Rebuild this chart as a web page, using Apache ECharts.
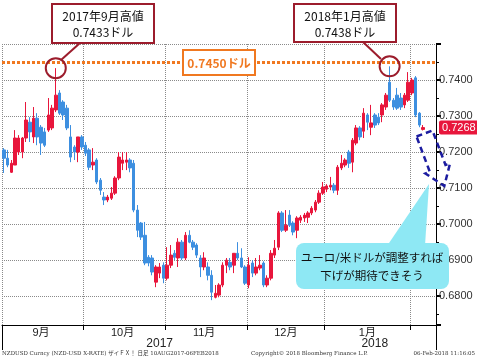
<!DOCTYPE html>
<html><head><meta charset="utf-8">
<script src="https://cdn.jsdelivr.net/npm/echarts@6/dist/echarts.min.js"></script>
<style>html,body{margin:0;padding:0;background:#fff}#c{width:477px;height:361px}</style>
</head><body><div id="c"></div>
<script>
// ---- categories (trading days) ----
const monthDays = [
  ['2017-08', [31]],
  ['2017-09', [1,4,5,6,7,8,11,12,13,14,15,18,19,20,21,22,25,26,27,28,29]],
  ['2017-10', [2,3,4,5,6,9,10,11,12,13,16,17,18,19,20,23,24,25,26,27,30,31]],
  ['2017-11', [1,2,3,6,7,8,9,10,13,14,15,16,17,20,21,22,23,24,27,28,29,30]],
  ['2017-12', [1,4,5,6,7,8,11,12,13,14,15,18,19,20,21,22,25,26,27,28,29]],
  ['2018-01', [1,2,3,4,5,8,9,10,11,12,15,16,17,18,19,22,23,24,25,26,29,30,31]],
  ['2018-02', [1,2,5,6,7,8,9]]
];
const dates = [];
monthDays.forEach(([m, ds]) => ds.forEach(d => dates.push(m + '-' + String(d).padStart(2, '0'))));

// ---- OHLC values (NZD/USD daily) ----
const opens = [0.7206,0.7183,0.7144,0.7164,0.7200,0.7200,0.7239,0.7283,0.7242,0.7294,0.7269,0.7256,0.7261,0.7267,0.7317,0.7364,0.7339,0.7322,0.7242,0.7214,0.7200,0.7242,
0.7219,0.7206,0.7164,0.7178,0.7122,0.7075,0.7067,0.7072,0.7086,0.7128,0.7169,0.7172,0.7178,0.7169,0.7039,0.7003,0.6969,0.6908,0.6906,0.6839,0.6864,0.6886,
0.6850,0.6886,0.6919,0.6906,0.6950,0.6906,0.6969,0.6950,0.6942,0.6906,0.6881,0.6881,0.6858,0.6797,0.6803,0.6831,0.6886,0.6894,0.6886,0.6919,0.6906,0.6881,
0.6831,0.6892,0.6864,0.6878,0.6892,0.6831,0.6850,0.6914,0.6936,0.7031,0.6983,0.7025,0.7003,0.6983,0.7011,0.7017,0.7019,0.7031,0.7039,0.7061,0.7086,
0.7097,0.7103,0.7108,0.7094,0.7156,0.7164,0.7200,0.7172,0.7225,0.7267,0.7258,0.7303,0.7269,0.7303,0.7297,0.7303,0.7325,0.7394,0.7344,0.7358,0.7350,0.7331,0.7344,
0.7364,0.7406,0.7308,0.7263];
const closes = [0.7183,0.7164,0.7169,0.7239,0.7239,0.7239,0.7289,0.7256,0.7294,0.7242,0.7225,0.7219,0.7303,0.7322,0.7358,0.7308,0.7303,0.7267,0.7186,0.7200,0.7242,0.7214,
0.7197,0.7158,0.7172,0.7117,0.7094,0.7067,0.7075,0.7086,0.7128,0.7186,0.7178,0.7178,0.7156,0.7039,0.6983,0.6964,0.6892,0.6892,0.6867,0.6881,0.6881,0.6850,
0.6886,0.6914,0.6908,0.6950,0.6906,0.6969,0.6950,0.6936,0.6914,0.6881,0.6906,0.6858,0.6811,0.6808,0.6831,0.6886,0.6900,0.6881,0.6919,0.6906,0.6881,0.6836,
0.6886,0.6864,0.6881,0.6886,0.6831,0.6850,0.6919,0.6933,0.7031,0.6983,0.6997,0.6997,0.6978,0.7017,0.7019,0.7025,0.7031,0.7044,0.7061,0.7086,0.7103,
0.7106,0.7108,0.7094,0.7158,0.7169,0.7178,0.7169,0.7233,0.7267,0.7242,0.7308,0.7283,0.7281,0.7275,0.7281,0.7331,0.7358,0.7344,0.7325,0.7322,0.7325,0.7358,0.7394,
0.7400,0.7303,0.7275,0.7268];
const lows = [0.7142,0.7158,0.7142,0.7164,0.7192,0.7183,0.7228,0.7228,0.7225,0.7219,0.7192,0.7214,0.7256,0.7261,0.7311,0.7303,0.7289,0.7261,0.7172,0.7178,0.7172,0.7206,
0.7189,0.7150,0.7150,0.7111,0.7081,0.7053,0.7061,0.7067,0.7081,0.7122,0.7150,0.7150,0.7144,0.7033,0.6964,0.6956,0.6886,0.6883,0.6858,0.6825,0.6850,0.6836,
0.6844,0.6878,0.6900,0.6881,0.6900,0.6900,0.6947,0.6928,0.6906,0.6853,0.6872,0.6844,0.6789,0.6794,0.6797,0.6825,0.6864,0.6872,0.6864,0.6900,0.6878,0.6831,
0.6822,0.6853,0.6858,0.6872,0.6825,0.6825,0.6844,0.6906,0.6928,0.6978,0.6978,0.6992,0.6969,0.6961,0.7003,0.7006,0.7003,0.7025,0.7033,0.7056,0.7081,
0.7089,0.7094,0.7086,0.7081,0.7150,0.7158,0.7156,0.7144,0.7219,0.7233,0.7239,0.7261,0.7247,0.7267,0.7275,0.7283,0.7317,0.7339,0.7317,0.7317,0.7317,0.7322,0.7339,
0.7358,0.7297,0.7269,0.7260];
const highs = [0.7211,0.7206,0.7178,0.7261,0.7247,0.7242,0.7339,0.7297,0.7325,0.7308,0.7275,0.7267,0.7350,0.7331,0.7433,0.7372,0.7344,0.7331,0.7275,0.7219,0.7242,0.7247,
0.7228,0.7211,0.7211,0.7183,0.7128,0.7089,0.7081,0.7103,0.7133,0.7200,0.7200,0.7200,0.7183,0.7178,0.7053,0.7006,0.7006,0.6914,0.6914,0.6886,0.6892,0.6894,
0.6936,0.6942,0.6928,0.6961,0.6956,0.6978,0.6983,0.6956,0.6947,0.6914,0.6922,0.6894,0.6872,0.6831,0.6836,0.6894,0.6906,0.6906,0.6919,0.6950,0.6933,0.6886,
0.6908,0.6900,0.6906,0.6914,0.6897,0.6858,0.6928,0.6956,0.7036,0.7036,0.7039,0.7039,0.7008,0.7022,0.7025,0.7031,0.7036,0.7050,0.7067,0.7094,0.7117,
0.7111,0.7131,0.7114,0.7164,0.7192,0.7183,0.7206,0.7239,0.7275,0.7272,0.7322,0.7308,0.7331,0.7308,0.7308,0.7336,0.7364,0.7438,0.7350,0.7378,0.7364,0.7364,0.7422,
0.7406,0.7411,0.7311,0.7275];

// ---- axis labels / reference values ----
const monthLabels = {'2017-09-14':'9月','2017-10-16':'10月','2017-11-15':'11月','2017-12-15':'12月','2018-01-16':'1月'};
const yearLabels = {'2017-10-30':'2017','2018-01-18':'2018'};
const monthStarts = ['2017-10-02','2017-11-01','2017-12-01','2018-01-01','2018-02-01'];
const yearStarts = ['2018-01-01'];
const resistance = 0.7450;
const lastPrice = 0.7268;
const highMarks = [['2017-09-20', 0.7433], ['2018-01-24', 0.7438]];

const RED = '#e8163c', BLUE = '#3d8fe0', ORANGE = '#f07820', DARKRED = '#9c1c2c';
const FONT = "'Liberation Sans','Noto Sans CJK JP',sans-serif";
const JFONT = "'Noto Sans CJK JP','Liberation Sans',sans-serif";

const candleData = dates.map((d, i) => i < opens.length ? [opens[i], closes[i], lows[i], highs[i]] : '-');

const chart = echarts.init(document.getElementById('c'), null, {renderer: 'canvas'});

function txt(text, x, y, opt) {
  return {type: 'text', z: 110, style: Object.assign({text, x, y, textAlign: 'center', textVerticalAlign: 'middle', fill: '#111', font: '12px ' + JFONT}, opt || {})};
}

// arrow outline (annotation)
const arrowPts = [[416.5,136.5],[432.5,130.5],[445.5,165],[450,163.5],[444.3,186],[425.5,173.5],[429.9,172]];

chart.setOption({
  animation: false,
  backgroundColor: '#fff',
  grid: {left: 2, right: 41, top: 44, bottom: 36, containLabel: false},
  xAxis: [{
    type: 'category', data: dates, boundaryGap: true,
    axisLine: {show: true, lineStyle: {color: '#000', width: 1}},
    axisTick: {show: true, length: 5, interval: (i, v) => monthStarts.includes(v), lineStyle: {color: '#000'}},
    axisLabel: {interval: (i, v) => v in monthLabels, formatter: v => monthLabels[v] || '', margin: 2, fontSize: 11, color: '#222', fontFamily: FONT, hideOverlap: false},
    splitLine: {show: true, interval: (i, v) => i === 0 || monthStarts.includes(v), lineStyle: {color: '#8a8a8a', type: 'dotted', width: 1}}
  }, {
    type: 'category', data: dates, boundaryGap: true, position: 'bottom', offset: 0,
    axisLine: {show: false},
    axisTick: {show: true, length: 25, interval: (i, v) => yearStarts.includes(v), lineStyle: {color: '#000'}},
    axisLabel: {interval: (i, v) => v in yearLabels, formatter: v => yearLabels[v] || '', margin: 13, fontSize: 12, color: '#222', fontFamily: FONT, hideOverlap: false},
    splitLine: {show: false}
  }],
  yAxis: {
    type: 'value', position: 'right', min: 0.672, max: 0.75, splitNumber: 8,
    axisLine: {show: true, lineStyle: {color: '#000', width: 1}},
    axisTick: {show: true, length: 5, lineStyle: {color: '#000', width: 2}},
    minorTick: {show: true, splitNumber: 2, length: 3, lineStyle: {color: '#000'}},
    axisLabel: {margin: 3, fontSize: 11, color: '#333', fontFamily: FONT,
      formatter: v => (Math.abs(v * 100 - Math.round(v * 100)) < 1e-6 && v < 0.7499) ? v.toFixed(4) : ''},
    splitLine: {show: true, lineStyle: {color: '#8a8a8a', type: 'dotted', width: 1}}
  },
  series: [{
    type: 'candlestick', xAxisIndex: 0, data: candleData, barWidth: 3,
    itemStyle: {color: RED, color0: BLUE, borderColor: RED, borderColor0: BLUE, borderWidth: 1},
    markPoint: {
      silent: true, symbol: 'circle', symbolSize: 20, animation: false,
      itemStyle: {color: 'rgba(0,0,0,0)', borderColor: DARKRED, borderWidth: 2},
      label: {show: false},
      data: highMarks.map(h => ({coord: [h[0], h[1]]}))
    }
  }, {
    type: 'line', xAxisIndex: 0, data: [], silent: true,
    markLine: {
      silent: true, symbol: ['none', 'none'], animation: false, precision: 4,
      data: [
        {yAxis: resistance, lineStyle: {color: ORANGE, width: 3, type: [3, 2]}, label: {show: false}},
        {yAxis: lastPrice, lineStyle: {color: 'rgba(0,0,0,0)', width: 1},
          label: {show: true, position: 'end', distance: 3, formatter: lastPrice.toFixed(4), color: '#fff', backgroundColor: RED,
            padding: [2, 3, 1, 3], fontSize: 11, fontFamily: FONT, borderRadius: 2}}
      ]
    }
  }],
  graphic: [
    // callout 1
    {type: 'line', z: 100, shape: {x1: 80, y1: 43, x2: 61, y2: 60}, style: {stroke: DARKRED, lineWidth: 2}},
    {type: 'rect', z: 100, shape: {x: 52, y: 4, width: 102, height: 39}, style: {fill: '#fff', stroke: DARKRED, lineWidth: 2}},
    txt('2017年9月高値', 103, 16),
    txt('0.7433ドル', 103, 32),
    // callout 2
    {type: 'line', z: 100, shape: {x1: 363, y1: 42, x2: 381, y2: 59}, style: {stroke: DARKRED, lineWidth: 2}},
    {type: 'rect', z: 100, shape: {x: 294, y: 4, width: 102, height: 38}, style: {fill: '#fff', stroke: DARKRED, lineWidth: 2}},
    txt('2018年1月高値', 345, 16),
    txt('0.7438ドル', 345, 32),
    // resistance label
    {type: 'rect', z: 100, shape: {x: 183, y: 50, width: 72, height: 25}, style: {fill: '#fff', stroke: ORANGE, lineWidth: 2}},
    txt('0.7450ドル', 219, 63, {fill: ORANGE, font: 'bold 12px ' + JFONT}),
    // blue dashed arrow
    {type: 'polygon', z: 100, shape: {points: arrowPts},
      style: {fill: 'none', stroke: '#1c1ca0', lineWidth: 2.5, lineDash: [6, 4]}},
    // speech bubble
    {type: 'polygon', z: 104, shape: {points: [[387, 246], [425, 246], [429, 184]]}, style: {fill: '#8ee8f4'}},
    {type: 'rect', z: 104, shape: {x: 296, y: 243, width: 153, height: 46, r: 8}, style: {fill: '#8ee8f4'}},
    txt('ユーロ/米ドルが調整すれば', 372, 258, {font: '11.5px ' + JFONT}),
    txt('下げが期待できそう', 372, 276, {font: '11.5px ' + JFONT}),
    // footer
    {type: 'text', z: 100, style: {text: 'NZDUSD Curncy (NZD-USD X-RATE) ザイＦＸ！ 日足 10AUG2017-06FEB2018', x: 2, y: 354, textVerticalAlign: 'middle', fill: '#333', font: "5.5px 'DejaVu Serif','Noto Sans CJK JP'"}},
    {type: 'text', z: 100, style: {text: 'Copyright© 2018 Bloomberg Finance L.P.', x: 251, y: 354, textVerticalAlign: 'middle', fill: '#333', font: "5.5px 'DejaVu Serif'"}},
    {type: 'text', z: 100, style: {text: '06-Feb-2018 11:16:05', x: 475, y: 354, textAlign: 'right', textVerticalAlign: 'middle', fill: '#333', font: "5.5px 'DejaVu Serif'"}}
  ]
});
</script></body></html>
